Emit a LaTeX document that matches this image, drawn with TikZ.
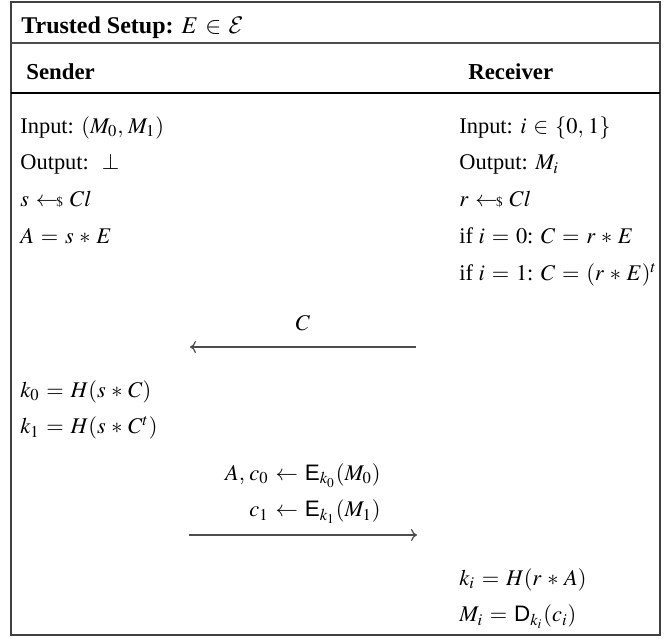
\documentclass[tikz,border=0pt]{standalone}
\usepackage{amsmath}
\usepackage{mathptmx}
\usepackage[no-math]{fontspec}
\setmainfont{Liberation Serif}
\setsansfont{Liberation Sans}
\usepackage{tikz}
\usetikzlibrary{arrows.meta,positioning}
\DeclareMathAlphabet{\mathcal}{OMS}{cmsy}{m}{n}
\newcommand{\sampleby}{\mathrel{\leftarrow\!\!{\scriptscriptstyle\$}}}
\newcommand{\Enc}{\textsf{E}}
\newcommand{\Dec}{\textsf{D}}
\tikzset{
  frame/.style={
    draw=black!75,
    line width=0.6pt
  },
  rule/.style={
    draw=black!70,
    line width=0.6pt
  },
  row/.style={
    inner sep=0pt,
    text height=9pt,
    text depth=3.5pt,
    font=\fontsize{11.2}{14}\selectfont
  },
  head/.style={
    row,
    font=\fontsize{11.4}{14}\selectfont\bfseries
  },
  under/.style={
    below=5.5pt of #1.south west,
    anchor=north west
  },
  msg/.style={-{To[length=3pt,width=6pt]},line width=0.6pt,draw=black!70}
}

\begin{document}
\begin{tikzpicture}[x=0.5pt,y=-0.5pt]
\thinmuskip=3.5mu
\medmuskip=4.5mu plus 2mu minus 2mu
\thickmuskip=5.5mu plus 3mu minus 1mu
\useasboundingbox (0,0) rectangle (664,639);

\draw[frame] (11,2) rectangle (660,635);
\draw[rule] (11,43) -- (660,43);
\draw[rule,draw=black] (11,93) -- (660,93);

\node[head,font=\fontsize{12}{14}\selectfont\bfseries,anchor=base west] (setup) at (21,33) {Trusted Setup: \mdseries$E \in \mathcal{E}$};
\node[head,anchor=base west] (sender) at (26,79) {Sender};
\node[head,anchor=base west] (receiver) at (468,79) {Receiver};

% sender side
\node[row,anchor=base west] (sin) at (20,133) {Input: $(M_0, M_1)$};
\node[row,under=sin] (sout) {Output: ~$\bot$};
\node[row,under=sout] (ss) {$s \sampleby Cl$};
\node[row,under=ss] (sa) {$A = s * E$};

% receiver side
\node[row,anchor=base west] (rin) at (459,133) {Input: $i \in \{0, 1\}$};
\node[row,under=rin] (rout) {Output: $M_i$};
\node[row,under=rout] (rr) {$r \sampleby Cl$};
\node[row,under=rr] (rc0) {if $i = 0$: $C = r * E$};
\node[row,under=rc0] (rc1) {if $i = 1$: $C = (r * E)^t$};

% first message
\coordinate (cR) at (416,347);
\coordinate (cL) at (190,347);
\draw[msg] (cR) -- node[row,midway,above=4.5pt] (clbl) {$C$} (cL);

\node[row,anchor=base west] (k0) at (20,397) {$k_0 = H(s * C)$};
\node[row,under=k0] (k1) {$k_1 = H(s * C^t)$};

% second message
\node[row,anchor=base east] (m0) at (381,480) {$A, c_0 \leftarrow \Enc_{k_0}(M_0)$};
\node[row,below=5.5pt of m0.south east,anchor=north east] (m1) {$c_1 \leftarrow \Enc_{k_1}(M_1)$};
\coordinate (aL) at (189,535);
\coordinate (aR) at (417,535);
\draw[msg] (aL) -- (aR);

\node[row,anchor=base west] (ki) at (459,585) {$k_i = H(r * A)$};
\node[row,under=ki] (mi) {$M_i = \Dec_{k_i}(c_i)$};

\end{tikzpicture}
\end{document}
